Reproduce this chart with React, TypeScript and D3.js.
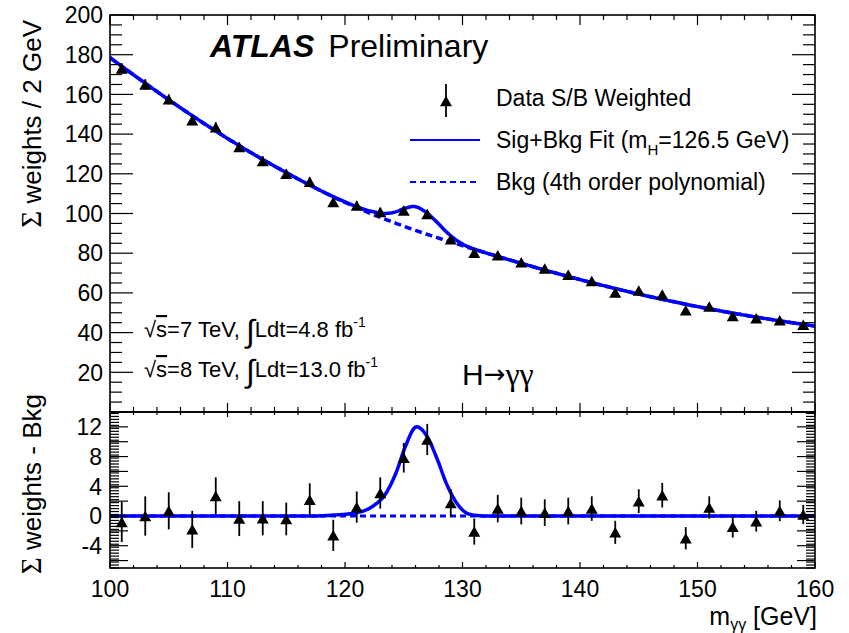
import React from "react";
import * as d3 from "d3";

// Bin centres of the diphoton mass histogram (2 GeV bins)
const massBins = [101, 103, 105, 107, 109, 111, 113, 115, 117, 119, 121, 123, 125, 127, 129, 131, 133, 135, 137, 139, 141, 143, 145, 147, 149, 151, 153, 155, 157, 159];

// S/B weighted event sums per bin
const weightSums = [173, 165, 157.5, 147, 143.5, 133.5, 126.5, 120, 116, 105.8, 104, 100.8, 101.5, 99.8, 87, 80.2, 79, 75.4, 72.3, 69.2, 66, 60.2, 61.2, 59.2, 51.2, 53.2, 48.3, 47.2, 46.2, 44];

// Weighted sum minus the background fit, per bin
const residuals = [-0.8, 0, 0.7, -1.8, 2.7, -0.35, -0.3, -0.4, 2.2, -2.6, 1.2, 3.1, 7.85, 10.3, 1.75, -2.1, 1.0, 0.67, 0.45, 0.67, 1.0, -2.2, 2.0, 2.8, -3.0, 1.15, -1.45, -0.7, 0.7, 0.2];

// Statistical uncertainty per bin
const binErrors = [2.7, 2.65, 2.5, 2.5, 2.5, 2.35, 2.3, 2.2, 2.2, 2.1, 2.1, 2.1, 2.0, 2.1, 1.85, 1.75, 1.85, 1.8, 1.8, 1.8, 1.65, 1.55, 1.6, 1.65, 1.5, 1.5, 1.45, 1.4, 1.4, 1.3];

// Background fit (4th order polynomial), sampled knots
const bkgMass = [100, 105, 110, 115, 120, 125, 130, 135, 140, 145, 150, 155, 160];
const bkgValue = [178.5, 157.3, 137.8, 120.6, 105.6, 93.6, 83.8, 74.9, 66.7, 59.4, 53.1, 47.8, 43.3];

// Signal component of the fit, sampled knots
const sigMass = [100, 117, 119, 121, 122.4, 123.5, 124.4, 125.1, 126.1, 126.95, 127.8, 128.65, 129.4, 130.1, 130.9, 132, 160];
const sigValue = [0, 0, 0.12, 0.45, 1.35, 3.1, 6.05, 9.2, 12.0, 10.8, 7.85, 4.3, 2.0, 0.67, 0.13, 0, 0];

// Axis tick labels
const xTickLabels = [100, 110, 120, 130, 140, 150, 160];
const topYTickLabels = [20, 40, 60, 80, 100, 120, 140, 160, 180, 200];
const botYTickLabels = [-4, 0, 4, 8, 12];

const FONT = "'Liberation Sans', Arial, Helvetica, sans-serif";
const SERIF = "'Liberation Serif', 'DejaVu Serif', serif";
const BLUE = "#0000ff";

// Monotone cubic (Steffen) interpolation through knots
function makeMonotone(xs: number[], ys: number[]) {
  const n = xs.length;
  const h: number[] = [];
  const s: number[] = [];
  for (let i = 0; i < n - 1; i++) {
    h.push(xs[i + 1] - xs[i]);
    s.push((ys[i + 1] - ys[i]) / (xs[i + 1] - xs[i]));
  }
  const m: number[] = new Array(n).fill(0);
  for (let i = 1; i < n - 1; i++) {
    const p = (s[i - 1] * h[i] + s[i] * h[i - 1]) / (h[i - 1] + h[i]);
    m[i] = (Math.sign(s[i - 1]) + Math.sign(s[i])) * Math.min(Math.abs(s[i - 1]), Math.abs(s[i]), 0.5 * Math.abs(p)) || 0;
  }
  m[0] = n > 2 ? (3 * s[0] - m[1]) / 2 : s[0];
  m[n - 1] = n > 2 ? (3 * s[n - 2] - m[n - 2]) / 2 : s[n - 2];
  return (x: number) => {
    let i = d3.bisectRight(xs, x) - 1;
    i = Math.max(0, Math.min(n - 2, i));
    const hh = h[i];
    const t = (x - xs[i]) / hh;
    const t2 = t * t, t3 = t2 * t;
    return (2 * t3 - 3 * t2 + 1) * ys[i] + (t3 - 2 * t2 + t) * hh * m[i] + (-2 * t3 + 3 * t2) * ys[i + 1] + (t3 - t2) * hh * m[i + 1];
  };
}

const bkgAt = makeMonotone(bkgMass, bkgValue);
const sigAt = makeMonotone(sigMass, sigValue);

const W = 849, H = 633;
const L = 110, R = 815, TOP = 15, MID = 412, BOT = 568;

// Up-pointing triangle marker centred on its bounding box
const TRI_W = 12, TRI_H = 10.5;
const tri = `M0,${-TRI_H / 2}L${TRI_W / 2},${TRI_H / 2}L${-TRI_W / 2},${TRI_H / 2}Z`;

export default function App() {
  const x = d3.scaleLinear().domain([100, 160]).range([L, R]);
  const yTop = d3.scaleLinear().domain([0, 200]).range([MID, TOP]);
  const yBot = d3.scaleLinear().domain([-7, 14]).range([BOT, MID]);

  const grid = d3.range(100, 160.001, 0.1);
  const topLine = d3.line<number>().x((m) => x(m)).y((m) => yTop(bkgAt(m) + sigAt(m)));
  const bkgLine = d3.line<number>().x((m) => x(m)).y((m) => yTop(bkgAt(m)));
  const sigLine = d3.line<number>().x((m) => x(m)).y((m) => yBot(sigAt(m)));
  const zeroLine = d3.line<number>().x((m) => x(m)).y(() => yBot(0));

  const xMinor = d3.range(100, 160.001, 2);
  const topYMinor = d3.range(0, 200.001, 5);
  const topYMajor = d3.range(0, 200.001, 20);
  const botYMajor = d3.range(-6, 14.001, 2);
  const botYMinor = d3.range(-7, 14.001, 0.4);

  const tk = (key: string, x1: number, y1: number, x2: number, y2: number) => (
    <line key={key} x1={x1} y1={y1} x2={x2} y2={y2} stroke="#000" strokeWidth={1.2} />
  );

  const ticks: React.ReactNode[] = [];
  // x ticks on every horizontal frame edge
  xMinor.forEach((m, i) => {
    const major = Math.abs(m % 10) < 1e-6;
    const px = x(m);
    ticks.push(tk(`t1-${i}`, px, TOP, px, TOP + (major ? 10 : 5)));
    ticks.push(tk(`t2-${i}`, px, MID, px, MID - (major ? 9 : 5)));
    ticks.push(tk(`t3-${i}`, px, MID, px, MID + (major ? 5 : 3)));
    ticks.push(tk(`t4-${i}`, px, BOT, px, BOT - (major ? 6 : 3)));
  });
  topYMinor.forEach((v, i) => {
    const major = topYMajor.some((t) => Math.abs(t - v) < 1e-6);
    const py = yTop(v);
    const len = major ? 23 : 12;
    ticks.push(tk(`y1-${i}`, L, py, L + len, py));
    ticks.push(tk(`y2-${i}`, R, py, R - len, py));
  });
  botYMinor.forEach((v, i) => {
    const py = yBot(v);
    if (py < MID || py > BOT) return;
    ticks.push(tk(`y3-${i}`, L, py, L + 9, py));
    ticks.push(tk(`y4-${i}`, R, py, R - 9, py));
  });
  botYMajor.forEach((v, i) => {
    const py = yBot(v);
    ticks.push(tk(`y5-${i}`, L, py, L + 18, py));
    ticks.push(tk(`y6-${i}`, R, py, R - 18, py));
  });

  const lumiLine = (y: number, energy: string, lumi: string) => (
    <text x={144} y={y} fontSize={22}>
      √<tspan textDecoration="overline">s</tspan>={energy} TeV, <tspan fontSize={32} dy={5}>∫</tspan>
      <tspan dy={-5}>Ldt={lumi} fb</tspan>
      <tspan fontSize={14} dy={-10}>-1</tspan>
    </text>
  );

  return (
    <svg width={W} height={H} style={{ position: "absolute", left: 0, top: 0, background: "#fff" }} fontFamily={FONT}>
      <rect width={W} height={H} fill="#fff" />
      <defs>
        <clipPath id="clipTop">
          <rect x={L} y={TOP} width={R - L} height={MID - TOP} />
        </clipPath>
        <clipPath id="clipBot">
          <rect x={L} y={MID} width={R - L} height={BOT - MID} />
        </clipPath>
      </defs>

      {/* Top panel: fit curves */}
      <g clipPath="url(#clipTop)">
        <path d={bkgLine(grid) || ""} fill="none" stroke={BLUE} strokeWidth={3.5} strokeDasharray="7 4" />
        <path d={topLine(grid) || ""} fill="none" stroke={BLUE} strokeWidth={3.5} />
      </g>
      {/* Top panel: data */}
      {massBins.map((m, i) => (
        <g key={`d-${i}`}>
          <line x1={x(m)} x2={x(m)} y1={yTop(weightSums[i] - binErrors[i])} y2={yTop(weightSums[i] + binErrors[i])} stroke="#000" strokeWidth={1.8} />
          <path d={tri} transform={`translate(${x(m)},${yTop(weightSums[i])})`} fill="#000" />
        </g>
      ))}

      {/* Bottom panel: fit curves */}
      <g clipPath="url(#clipBot)">
        <path d={zeroLine(grid) || ""} fill="none" stroke={BLUE} strokeWidth={3} strokeDasharray="6 4" />
        <path d={sigLine(grid) || ""} fill="none" stroke={BLUE} strokeWidth={3.5} />
      </g>
      {massBins.map((m, i) => (
        <g key={`r-${i}`}>
          <line x1={x(m)} x2={x(m)} y1={yBot(residuals[i] - binErrors[i])} y2={yBot(residuals[i] + binErrors[i])} stroke="#000" strokeWidth={1.8} />
          <path d={tri} transform={`translate(${x(m)},${yBot(residuals[i])})`} fill="#000" />
        </g>
      ))}

      {/* Frames and ticks */}
      {ticks}
      <rect x={L} y={TOP} width={R - L} height={MID - TOP} fill="none" stroke="#000" strokeWidth={1.6} />
      <rect x={L} y={MID} width={R - L} height={BOT - MID} fill="none" stroke="#000" strokeWidth={1.6} />

      {/* Tick labels */}
      {topYTickLabels.map((v) => (
        <text key={`ly-${v}`} x={L - 7} y={yTop(v)} dy="0.36em" textAnchor="end" fontSize={23}>{v}</text>
      ))}
      {botYTickLabels.map((v) => (
        <text key={`lb-${v}`} x={L - 8} y={yBot(v)} dy="0.36em" textAnchor="end" fontSize={23}>{v}</text>
      ))}
      {xTickLabels.map((v) => (
        <text key={`lx-${v}`} x={x(v)} y={597} textAnchor="middle" fontSize={23}>{v}</text>
      ))}

      {/* Axis titles */}
      <text transform="translate(41,20) rotate(-90)" textAnchor="end" fontSize={26}>
        <tspan fontFamily={SERIF} fontSize={29}>Σ</tspan> weights / 2 GeV
      </text>
      <text transform="translate(41,394) rotate(-90)" textAnchor="end" fontSize={26}>
        <tspan fontFamily={SERIF} fontSize={29}>Σ</tspan> weights - Bkg
      </text>
      <text x={R + 2} y={625} textAnchor="end" fontSize={25}>
        m<tspan fontSize={16} dy={5}>γγ</tspan><tspan dy={-5}> [GeV]</tspan>
      </text>

      {/* Experiment label */}
      <text x={210} y={57} fontSize={32}>
        <tspan fontWeight="bold" fontStyle="italic">ATLAS</tspan>
        <tspan dx={14}>Preliminary</tspan>
      </text>

      {/* Legend */}
      <line x1={446} x2={446} y1={84} y2={117} stroke="#000" strokeWidth={1.8} />
      <path d={tri} transform="translate(446,101)" fill="#000" />
      <text x={496} y={106} fontSize={23}>Data S/B Weighted</text>
      <line x1={410} x2={480} y1={140} y2={140} stroke={BLUE} strokeWidth={2.2} />
      <text x={496} y={148} fontSize={23}>
        Sig+Bkg Fit (m<tspan fontSize={15} dy={7}>H</tspan><tspan dy={-7}>=126.5 GeV)</tspan>
      </text>
      <line x1={410} x2={480} y1={182} y2={182} stroke={BLUE} strokeWidth={2.2} strokeDasharray="6 4" />
      <text x={496} y={190} fontSize={23}>Bkg (4th order polynomial)</text>

      {/* Dataset annotations */}
      {lumiLine(337, "7", "4.8")}
      {lumiLine(377, "8", "13.0")}
      <text x={462} y={385} fontSize={30}>
        H<tspan fontFamily="'DejaVu Sans', sans-serif" fontSize={26} dy={-2}>→</tspan>
        <tspan fontFamily={SERIF} fontSize={32} dy={2}>γγ</tspan>
      </text>
    </svg>
  );
}
